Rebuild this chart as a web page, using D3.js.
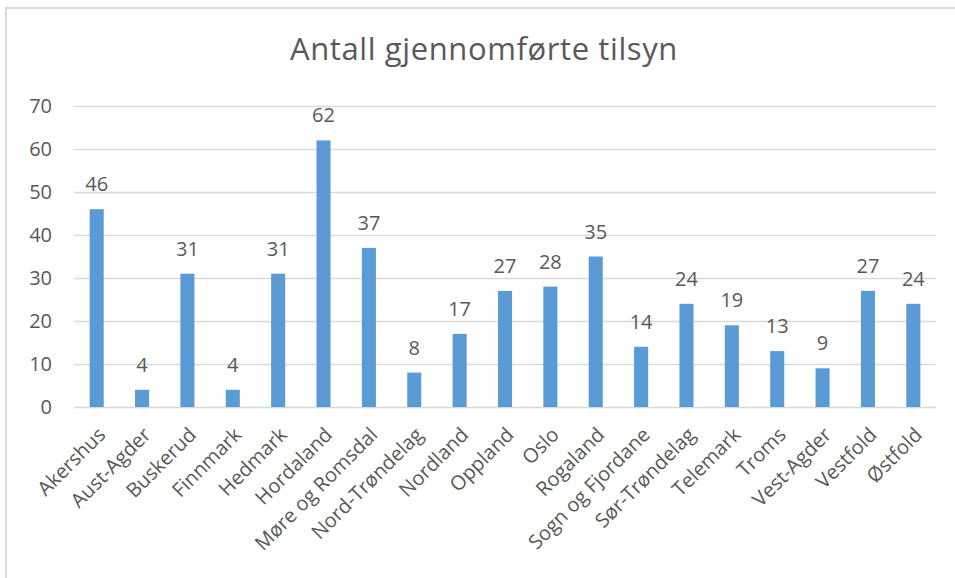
<!DOCTYPE html>
<html>
<head>
<meta charset="utf-8">
<script src="https://cdn.jsdelivr.net/npm/d3@7"></script>
<style>
  body { margin: 0; background: #fff; }
  text { font-family: "Open Sans", sans-serif; fill: #595959; }
</style>
</head>
<body>
<div id="chart"></div>
<script>
const title = "Antall gjennomførte tilsyn";
const categories = ["Akershus", "Aust-Agder", "Buskerud", "Finnmark", "Hedmark", "Hordaland",
  "Møre og Romsdal", "Nord-Trøndelag", "Nordland", "Oppland", "Oslo", "Rogaland",
  "Sogn og Fjordane", "Sør-Trøndelag", "Telemark", "Troms", "Vest-Agder", "Vestfold", "Østfold"];
const values = [46, 4, 31, 4, 31, 62, 37, 8, 17, 27, 28, 35, 14, 24, 19, 13, 9, 27, 24];
const yTicks = [0, 10, 20, 30, 40, 50, 60, 70];

function init(){
    const W = 955, H = 578;
    const margin = { top: 106, right: 19, bottom: 171, left: 74 };
    const width = W - margin.left - margin.right;
    const height = H - margin.top - margin.bottom;

    const root = d3.select("#chart").append("svg")
        .attr("width", W)
        .attr("height", H);

    // outer chart border (runs off the right and bottom edges)
    root.append("rect")
        .attr("x", 6).attr("y", 8)
        .attr("width", W + 20).attr("height", H + 20)
        .attr("fill", "none")
        .attr("stroke", "#d9d9d9")
        .attr("stroke-width", 2);

    root.append("text")
        .attr("x", 484)
        .attr("y", 60)
        .attr("text-anchor", "middle")
        .style("font-size", "31px")
        .style("letter-spacing", "0.6px")
        .text(title);

    const svg = root.append("g")
        .attr("transform", `translate(${margin.left}, ${margin.top})`);

    const x = d3.scaleBand()
        .domain(categories)
        .range([0, width])
        .paddingInner(0.69)
        .paddingOuter(0.345);

    const y = d3.scaleLinear()
        .domain([0, 70])
        .range([height, 0]);

    // gridlines
    svg.append("g")
       .selectAll("line")
       .data(yTicks)
       .enter()
       .append("line")
       .attr("x1", 0).attr("x2", width)
       .attr("y1", d => Math.round(y(d)) + 0.5)
       .attr("y2", d => Math.round(y(d)) + 0.5)
       .attr("stroke", "#d9d9d9")
       .attr("stroke-width", 1.5);

    // y axis labels
    const yAxis = svg.append("g")
       .call(d3.axisLeft(y).tickValues(yTicks).tickSize(0).tickPadding(22));
    yAxis.select(".domain").remove();
    yAxis.selectAll("text")
       .style("font-size", "20px")
       .style("font-family", "'Open Sans', sans-serif")
       .attr("fill", "#595959");

    // bars
    svg.selectAll(".bar")
       .data(values)
       .enter()
       .append("rect")
       .attr("class", "bar")
       .attr("x", (d, i) => x(categories[i]))
       .attr("y", d => y(d))
       .attr("width", x.bandwidth())
       .attr("height", d => height - y(d))
       .attr("fill", "#5b9bd5");

    // value labels
    svg.selectAll(".val")
       .data(values)
       .enter()
       .append("text")
       .attr("class", "val")
       .attr("x", (d, i) => x(categories[i]) + x.bandwidth() / 2)
       .attr("y", d => y(d) - 18)
       .attr("text-anchor", "middle")
       .style("font-size", "20px")
       .text(d => d);

    // x axis labels rotated
    const xAxis = svg.append("g")
       .attr("transform", `translate(0, ${height})`)
       .call(d3.axisBottom(x).tickSize(0).tickPadding(0));
    xAxis.select(".domain").remove();
    xAxis.selectAll("text")
       .style("font-size", "20px")
       .style("font-family", "'Open Sans', sans-serif")
       .attr("fill", "#595959")
       .attr("text-anchor", "end")
       .attr("dy", null)
       .attr("y", 0)
       .attr("transform", "translate(10, 29) rotate(-45)");
}
window.onload = init;
</script>
</body>
</html>
